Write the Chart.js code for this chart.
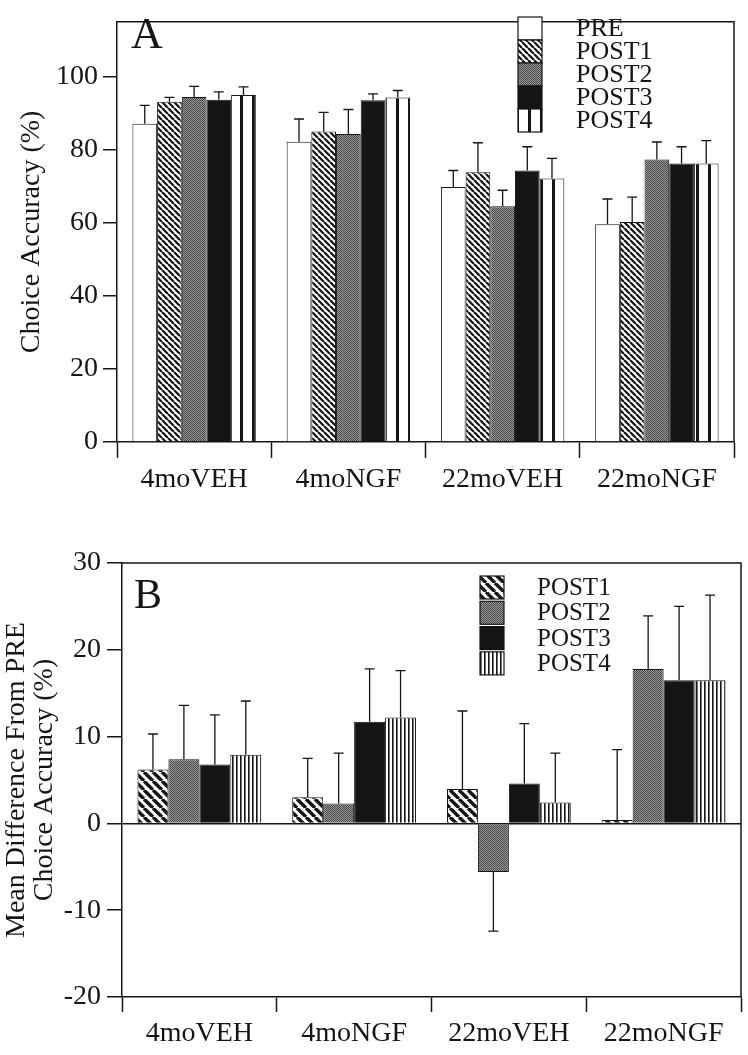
<!DOCTYPE html>
<html>
<head>
<meta charset="utf-8">
<script src="https://cdn.jsdelivr.net/npm/chart.js@4.4.1/dist/chart.umd.min.js"></script>
<style>
  html, body { margin: 0; padding: 0; background: #fff; }
  body { width: 748px; height: 1055px; position: relative; overflow: hidden; }
  .box { position: absolute; left: 0; width: 748px; }
  #boxA { top: 0; height: 505px; }
  #boxB { top: 520px; height: 535px; }
</style>
</head>
<body>
<div class="box" id="boxA"><canvas id="chartA" width="748" height="505"></canvas></div>
<div class="box" id="boxB"><canvas id="chartB" width="748" height="535"></canvas></div>
<script>
const groups = ['4moVEH', '4moNGF', '22moVEH', '22moNGF'];

// panel A: choice accuracy (%)
const accSeries = ['PRE', 'POST1', 'POST2', 'POST3', 'POST4'];
const accPre   = [87.1, 82.2, 69.8, 59.6];
const accPost1 = [93.1, 85.0, 73.8, 60.2];
const accPost2 = [94.4, 84.3, 64.5, 77.3];
const accPost3 = [93.7, 93.5, 74.3, 76.2];
const accPost4 = [95.0, 94.3, 72.1, 76.2];
const errPre   = [5.0, 6.2, 4.5, 6.9];
const errPost1 = [1.2, 5.2, 8.1, 6.8];
const errPost2 = [2.9, 6.7, 4.4, 4.8];
const errPost3 = [2.1, 1.8, 6.5, 4.6];
const errPost4 = [2.2, 1.9, 5.5, 6.3];
const accTicks = [0, 20, 40, 60, 80, 100];

// panel B: mean difference from PRE
const diffSeries = ['POST1', 'POST2', 'POST3', 'POST4'];
const diffPost1 = [6.2, 3.0, 3.95, 0.4];
const diffPost2 = [7.4, 2.3, -5.6, 17.8];
const diffPost3 = [6.8, 11.7, 4.6, 16.5];
const diffPost4 = [7.9, 12.2, 2.4, 16.5];
const errDiff1 = [4.1, 4.5, 9.0, 8.1];
const errDiff2 = [6.2, 5.8, 6.8, 6.1];
const errDiff3 = [5.7, 6.1, 6.9, 8.5];
const errDiff4 = [6.2, 5.4, 5.7, 9.8];
const diffTicks = [-20, -10, 0, 10, 20, 30];

const serif = "'Liberation Serif', 'Times New Roman', serif";
const ink = '#151515';

function pattern(ctx, w, h, draw) {
  const c = document.createElement('canvas');
  c.width = w; c.height = h;
  const g = c.getContext('2d');
  g.fillStyle = '#fff';
  g.fillRect(0, 0, w, h);
  draw(g, w, h);
  return ctx.createPattern(c, 'repeat');
}

function fillsFor(ctx, diagP, stripeP, stripeW) {
  return {
    PRE: '#fff',
    POST1: pattern(ctx, diagP, diagP, (g, w) => {
      g.strokeStyle = ink;
      g.lineWidth = w * 0.38;
      g.beginPath();
      for (let k = -1; k <= 1; k++) { g.moveTo(k * w, 0); g.lineTo(k * w + w, w); }
      g.stroke();
    }),
    POST2: pattern(ctx, 2, 2, g => {
      g.fillStyle = '#9c9c9c'; g.fillRect(0, 0, 2, 2);
      g.fillStyle = '#454545'; g.fillRect(0, 0, 1, 1); g.fillRect(1, 1, 1, 1);
    }),
    POST3: ink,
    POST4: pattern(ctx, stripeP, 4, g => {
      g.fillStyle = ink;
      g.fillRect(0, 0, stripeW, 4);
    })
  };
}

const errorBars = {
  id: 'errorBars',
  afterDatasetsDraw(chart) {
    const { ctx, scales: { y } } = chart;
    ctx.save();
    ctx.strokeStyle = ink;
    ctx.lineWidth = 1.3;
    chart.data.datasets.forEach((ds, i) => {
      chart.getDatasetMeta(i).data.forEach((bar, j) => {
        const v = ds.data[j], e = ds.errors[j];
        const yEnd = y.getPixelForValue(v >= 0 ? v + e : v - e);
        ctx.beginPath();
        ctx.moveTo(bar.x, bar.y); ctx.lineTo(bar.x, yEnd);
        ctx.moveTo(bar.x - 5, yEnd); ctx.lineTo(bar.x + 5, yEnd);
        ctx.stroke();
      });
    });
    ctx.restore();
  }
};

// frame, panel letter and the stacked legend
const decor = {
  id: 'decor',
  afterDraw(chart, args, o) {
    const { ctx, chartArea: a } = chart;
    ctx.save();
    ctx.strokeStyle = ink;
    ctx.lineWidth = 1.5;
    ctx.beginPath();
    ctx.moveTo(a.left, a.top); ctx.lineTo(a.right, a.top); ctx.lineTo(a.right, a.bottom);
    ctx.stroke();

    ctx.fillStyle = ink;
    ctx.font = `${o.letterSize}px ${serif}`;
    ctx.textBaseline = 'alphabetic';
    ctx.fillText(o.letter, o.letterX, o.letterY);

    ctx.font = `${o.fontSize}px ${serif}`;
    ctx.textBaseline = 'middle';
    ctx.lineWidth = 1.2;
    chart.data.datasets.forEach((ds, i) => {
      const y = o.legendY + i * o.step;
      ctx.fillStyle = ds.backgroundColor;
      ctx.fillRect(o.legendX, y, 24, o.boxH);
      ctx.strokeRect(o.legendX, y, 24, o.boxH);
      ctx.fillStyle = ink;
      ctx.fillText(ds.label, o.textX, y + o.boxH / 2 + 1);
    });
    ctx.restore();
  }
};

function buildChart(id, o) {
  const ctx = document.getElementById(id).getContext('2d');
  const fills = fillsFor(ctx, o.diagP, o.stripeP, o.stripeW);
  return new Chart(ctx, {
    type: 'bar',
    data: {
      labels: groups,
      datasets: o.series.map((name, i) => ({
        label: name,
        data: o.values[i],
        errors: o.errors[i],
        backgroundColor: fills[name],
        borderColor: ink,
        borderWidth: 1
      }))
    },
    options: {
      responsive: false,
      animation: false,
      devicePixelRatio: 1,
      layout: { padding: o.padding },
      datasets: { bar: { categoryPercentage: 0.8, barPercentage: 1.0 } },
      plugins: {
        legend: { display: false },
        tooltip: { enabled: false },
        decor: o.decor
      },
      scales: {
        x: {
          grid: { offset: true, drawOnChartArea: false, tickLength: o.xTickLen, tickColor: ink, tickWidth: 1.5 },
          border: { color: ink, width: 1.5 },
          ticks: { color: ink, font: { family: serif, size: 28 }, padding: 5, maxRotation: 0, autoSkip: false },
          afterFit: s => { s.height = o.xHeight; }
        },
        y: {
          min: o.min,
          max: o.max,
          afterBuildTicks: s => { s.ticks = o.ticks.map(v => ({ value: v })); },
          grid: {
            color: c => (o.zeroLine && c.tick && c.tick.value === 0) ? ink : 'rgba(0,0,0,0)',
            lineWidth: 1.5,
            tickLength: o.yTickLen,
            tickColor: ink,
            tickWidth: 1.5
          },
          border: { color: ink, width: 1.5 },
          ticks: { color: ink, font: { family: serif, size: 28 }, padding: o.yPad },
          title: {
            display: true,
            text: o.title,
            color: ink,
            font: { family: serif, size: 28, lineHeight: 1.0 },
            padding: { top: o.titlePad, bottom: 0 }
          },
          afterFit: s => { s.width = o.yWidth; }
        }
      }
    },
    plugins: [errorBars, decor]
  });
}

buildChart('chartA', {
  series: accSeries,
  values: [accPre, accPost1, accPost2, accPost3, accPost4],
  errors: [errPre, errPost1, errPost2, errPost3, errPost4],
  ticks: accTicks, min: 0, max: 115,
  title: 'Choice Accuracy (%)', titlePad: 18,
  padding: { top: 7, right: 14, left: 0, bottom: 0 },
  yWidth: 117, xHeight: 63, yTickLen: 14, xTickLen: 16, yPad: 5,
  zeroLine: false,
  diagP: 6, stripeP: 12, stripeW: 3,
  decor: { letter: 'A', letterX: 131, letterY: 48, letterSize: 44,
           legendX: 518, legendY: 17, boxH: 23, step: 23, textX: 576, fontSize: 26 }
});

buildChart('chartB', {
  series: diffSeries,
  values: [diffPost1, diffPost2, diffPost3, diffPost4],
  errors: [errDiff1, errDiff2, errDiff3, errDiff4],
  ticks: diffTicks, min: -20, max: 30,
  title: ['Mean Difference From PRE', 'Choice Accuracy (%)'], titlePad: 3,
  padding: { top: 43, right: 7, left: 0, bottom: 0 },
  yWidth: 122, xHeight: 58, yTickLen: 15, xTickLen: 15, yPad: 6,
  zeroLine: true,
  diagP: 9, stripeP: 4, stripeW: 1.6,
  decor: { letter: 'B', letterX: 134, letterY: 88, letterSize: 42,
           legendX: 480, legendY: 56, boxH: 23, step: 25.3, textX: 537, fontSize: 25 }
});
</script>
</body>
</html>
